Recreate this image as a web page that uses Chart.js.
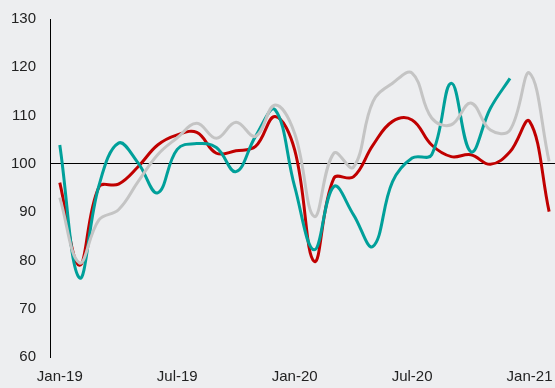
<!DOCTYPE html>
<html>
<head>
<meta charset="utf-8">
<script src="https://cdn.jsdelivr.net/npm/chart.js@4/dist/chart.umd.min.js"></script>
<style>
  html, body { margin: 0; padding: 0; background: #edeef0; }
  canvas { display: block; }
</style>
</head>
<body>
<canvas id="chart" width="555" height="388"></canvas>
<script>
// monthly index values, Jan-19 = month 0
const tickLabels = ['Jan-19', 'Jul-19', 'Jan-20', 'Jul-20', 'Jan-21'];
const tickMonths = [0, 6, 12, 18, 24];

const redSeries = [96.1, 79.0, 95.2, 95.8, 99.4, 103.9, 106.0, 106.5, 102.2, 102.7, 103.6, 109.8,
    102.9, 79.8, 97.0, 97.3, 103.9, 108.8, 109.1, 103.9, 101.5, 101.9, 99.9, 102.5, 108.8, 90.1];
const tealSeries = [103.9, 76.4, 95.5, 104.3, 100.2, 94.0, 103.0, 104.2, 103.4, 98.4, 105.7, 111.2,
    95.3, 82.2, 95.3, 89.5, 82.9, 96.3, 101.2, 101.9, 116.7, 102.5, 111.5, 117.7];
const greySeries = [93.0, 79.5, 88.4, 90.5, 96.3, 101.9, 105.4, 108.4, 105.3, 108.6, 105.7, 112.2,
    106.3, 89.1, 102.2, 99.3, 112.9, 116.7, 118.8, 109.5, 108.1, 112.6, 107.0, 107.0, 118.8, 100.5];

const yTicks = { min: 60, max: 130, step: 10 };

function points(values) {
    return values.map((v, i) => ({ x: i, y: v }));
}

function line(values, color) {
    return {
        data: points(values),
        borderColor: color,
        borderWidth: 3,
        pointRadius: 0,
        tension: 0.4,
        fill: false
    };
}

const font = { family: '"Liberation Sans", Arial, sans-serif', size: 15 };

new Chart(document.getElementById('chart'), {
    type: 'line',
    data: {
        datasets: [
            line(greySeries, '#c4c4c4'),
            line(tealSeries, '#00a09a'),
            line(redSeries, '#c00000')
        ]
    },
    options: {
        responsive: false,
        animation: false,
        layout: { padding: { top: 19, left: 12, right: 0, bottom: 2 } },
        plugins: { legend: { display: false }, tooltip: { enabled: false } },
        scales: {
            x: {
                type: 'linear',
                min: -0.5,
                max: 25.3,
                grid: { display: false, drawTicks: false },
                border: { display: false },
                afterBuildTicks: axis => {
                    axis.ticks = tickMonths.map(m => ({ value: m }));
                },
                afterFit: axis => {
                    axis.height = 29;
                    axis.paddingLeft = 0;
                    axis.paddingRight = 0;
                },
                ticks: {
                    padding: 11,
                    color: '#222',
                    font: font,
                    maxRotation: 0,
                    autoSkip: false,
                    callback: value => tickLabels[tickMonths.indexOf(value)]
                }
            },
            y: {
                min: yTicks.min,
                max: yTicks.max,
                afterFit: axis => {
                    axis.width = 38;
                    axis.paddingTop = 0;
                    axis.paddingBottom = 0;
                },
                grid: {
                    drawTicks: false,
                    color: ctx => ctx.tick && ctx.tick.value === 100 ? '#000' : 'rgba(0,0,0,0)',
                    lineWidth: 1
                },
                border: { display: true, color: '#000', width: 1 },
                ticks: {
                    stepSize: yTicks.step,
                    padding: 14,
                    color: '#222',
                    font: font
                }
            }
        }
    }
});
</script>
</body>
</html>
